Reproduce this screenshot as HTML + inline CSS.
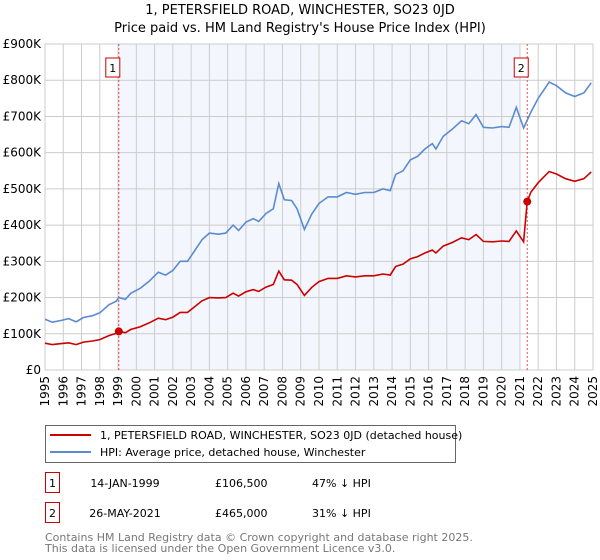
<!DOCTYPE html>
<html><head><meta charset="utf-8"><style>
body{margin:0;background:#fff;}
svg{display:block;font-family:"DejaVu Sans","Liberation Sans",sans-serif;}
</style></head><body>
<svg id="c" width="600" height="560" xmlns="http://www.w3.org/2000/svg"></svg>
<script>
const hpiYears=[1995.0,1995.4,1995.9,1996.3,1996.7,1997.1,1997.6,1998.0,1998.5,1998.9,1999.04,1999.4,1999.7,2000.2,2000.7,2001.2,2001.6,2002.0,2002.4,2002.8,2003.2,2003.6,2004.0,2004.5,2004.9,2005.3,2005.6,2006.0,2006.4,2006.7,2007.1,2007.5,2007.8,2008.1,2008.5,2008.8,2009.2,2009.6,2010.0,2010.5,2011.0,2011.5,2012.0,2012.5,2013.0,2013.5,2013.9,2014.2,2014.6,2015.0,2015.4,2015.8,2016.2,2016.4,2016.8,2017.3,2017.8,2018.2,2018.6,2019.0,2019.5,2020.0,2020.4,2020.8,2021.2,2021.6,2022.0,2022.6,2023.0,2023.5,2024.0,2024.5,2024.9];
const hpiValues=[140,132,137,142,133,145,150,158,180,190,200,195,212,225,245,270,262,275,300,300,330,360,378,375,378,400,385,408,418,410,432,445,515,470,468,445,388,430,460,478,478,490,485,490,490,500,495,540,550,580,590,610,625,610,645,665,688,680,705,670,668,672,670,725,668,712,750,795,785,765,755,765,793];
const priceYears=[1995.0,1995.4,1995.9,1996.3,1996.7,1997.1,1997.6,1998.0,1998.5,1998.9,1999.04,1999.4,1999.7,2000.2,2000.7,2001.2,2001.6,2002.0,2002.4,2002.8,2003.2,2003.6,2004.0,2004.5,2004.9,2005.3,2005.6,2006.0,2006.4,2006.7,2007.1,2007.5,2007.8,2008.1,2008.5,2008.8,2009.2,2009.6,2010.0,2010.5,2011.0,2011.5,2012.0,2012.5,2013.0,2013.5,2013.9,2014.2,2014.6,2015.0,2015.4,2015.8,2016.2,2016.4,2016.8,2017.3,2017.8,2018.2,2018.6,2019.0,2019.5,2020.0,2020.4,2020.8,2021.2,2021.4,2021.6,2022.0,2022.6,2023.0,2023.5,2024.0,2024.5,2024.9];
const priceValues=[74,70,73,75,70,77,80,84,95,101,106,103,112,119,130,143,139,146,159,159,175,191,200,199,200,212,204,216,222,217,229,236,273,249,248,236,206,228,244,253,253,260,257,260,260,265,262,286,292,307,313,323,331,323,342,352,365,360,374,355,354,356,355,384,354,465,491,517,548,541,528,521,528,547];
const saleYears=[1999.04,2021.4];
const saleValues=[106.5,465];
const saleLabels=["1","2"];
const yTicks=[0,100,200,300,400,500,600,700,800,900];
const yTickLabels=["£0","£100K","£200K","£300K","£400K","£500K","£600K","£700K","£800K","£900K"];
const xTicks=[1995,1996,1997,1998,1999,2000,2001,2002,2003,2004,2005,2006,2007,2008,2009,2010,2011,2012,2013,2014,2015,2016,2017,2018,2019,2020,2021,2022,2023,2024,2025];

const L=45,R=593,T=44,B=370;
const xS=y=>L+(y-1995)/30*(R-L);
const yS=v=>B-v/900*(B-T);
const svg=document.getElementById('c');
const NS='http://www.w3.org/2000/svg';
function mk(tag,attrs,parent){const e=document.createElementNS(NS,tag);for(const k in attrs)e.setAttribute(k,attrs[k]);(parent||svg).appendChild(e);return e;}

let t=mk('text',{x:300,y:14,'text-anchor':'middle','font-size':13});t.textContent='1, PETERSFIELD ROAD, WINCHESTER, SO23 0JD';


t=mk('text',{x:300,y:32,'text-anchor':'middle','font-size':13});t.textContent="Price paid vs. HM Land Registry's House Price Index (HPI)";



let sh=mk('rect',{x:xS(saleYears[0]),y:T,width:xS(2020.95)-xS(saleYears[0]),height:B-T,fill:'#eef3fc',opacity:0.7});



xTicks.forEach(y=>{const l=mk('line',{x1:xS(y),x2:xS(y),y1:T,y2:B,stroke:'#cccccc'});


const tx=mk('text',{transform:`translate(${xS(y)+4},${B+6}) rotate(-90)`,'text-anchor':'end','font-size':12});tx.textContent=y;

});
yTicks.forEach((v,i)=>{const l=mk('line',{x1:L,x2:R,y1:yS(v),y2:yS(v),stroke:'#cccccc'});


const tx=mk('text',{x:L-4,y:yS(v)+4,'text-anchor':'end','font-size':12});tx.textContent=yTickLabels[i];

});

saleYears.forEach((y,i)=>{const l=mk('line',{x1:xS(y),x2:xS(y),y1:T,y2:B,stroke:'#e05050','stroke-dasharray':'2,2'});


const g=mk('g',{});


mk('rect',{x:xS(y)-13,y:58,width:14,height:19,fill:'#fff',stroke:'#cc0000'},g);
const tx=mk('text',{x:xS(y)-6,y:72,'text-anchor':'middle','font-size':11},g);tx.textContent=saleLabels[i];});

const pts=(xs,vs)=>xs.map((y,i)=>xS(y).toFixed(1)+','+yS(vs[i]).toFixed(1)).join(' ');
let p=mk('polyline',{points:pts(hpiYears,hpiValues),fill:'none',stroke:'#5b8bd0','stroke-width':1.6});


p=mk('polyline',{points:pts(priceYears,priceValues),fill:'none',stroke:'#cc0000','stroke-width':1.6});


saleYears.forEach((y,i)=>{const c=mk('circle',{cx:xS(y),cy:yS(saleValues[i]),r:4,fill:'#cc0000'});

});

// legend
const lg=mk('g',{});


mk('rect',{x:45.5,y:425.5,width:410,height:37,fill:'#fff',stroke:'#666'},lg);
mk('line',{x1:50,x2:91,y1:435,y2:435,stroke:'#cc0000','stroke-width':2},lg);
mk('line',{x1:50,x2:91,y1:452,y2:452,stroke:'#5b8bd0','stroke-width':2},lg);
t=mk('text',{x:100,y:439,'font-size':11},lg);t.textContent='1, PETERSFIELD ROAD, WINCHESTER, SO23 0JD (detached house)';


t=mk('text',{x:100,y:456,'font-size':11},lg);t.textContent='HPI: Average price, detached house, Winchester';



const rows=[["1","14-JAN-1999","£106,500","47% ↓ HPI",483],["2","26-MAY-2021","£465,000","31% ↓ HPI",513]];
rows.forEach(r=>{const g=mk('g',{});


mk('rect',{x:45.5,y:r[4]-10.5,width:14,height:20,fill:'#fff',stroke:'#cc0000'},g);
let a=mk('text',{x:52.5,y:r[4]+4,'text-anchor':'middle','font-size':11},g);a.textContent=r[0];
a=mk('text',{x:125,y:r[4]+4,'text-anchor':'middle','font-size':11},g);a.textContent=r[1];
a=mk('text',{x:215,y:r[4]+4,'font-size':11},g);a.textContent=r[2];
a=mk('text',{x:312,y:r[4]+4,'font-size':11},g);a.textContent=r[3];});

t=mk('text',{x:45,y:541,'font-size':11,fill:'#777'});t.textContent='Contains HM Land Registry data © Crown copyright and database right 2025.';


t=mk('text',{x:45,y:552,'font-size':11,fill:'#777'});t.textContent='This data is licensed under the Open Government Licence v3.0.';


</script>
</body></html>
